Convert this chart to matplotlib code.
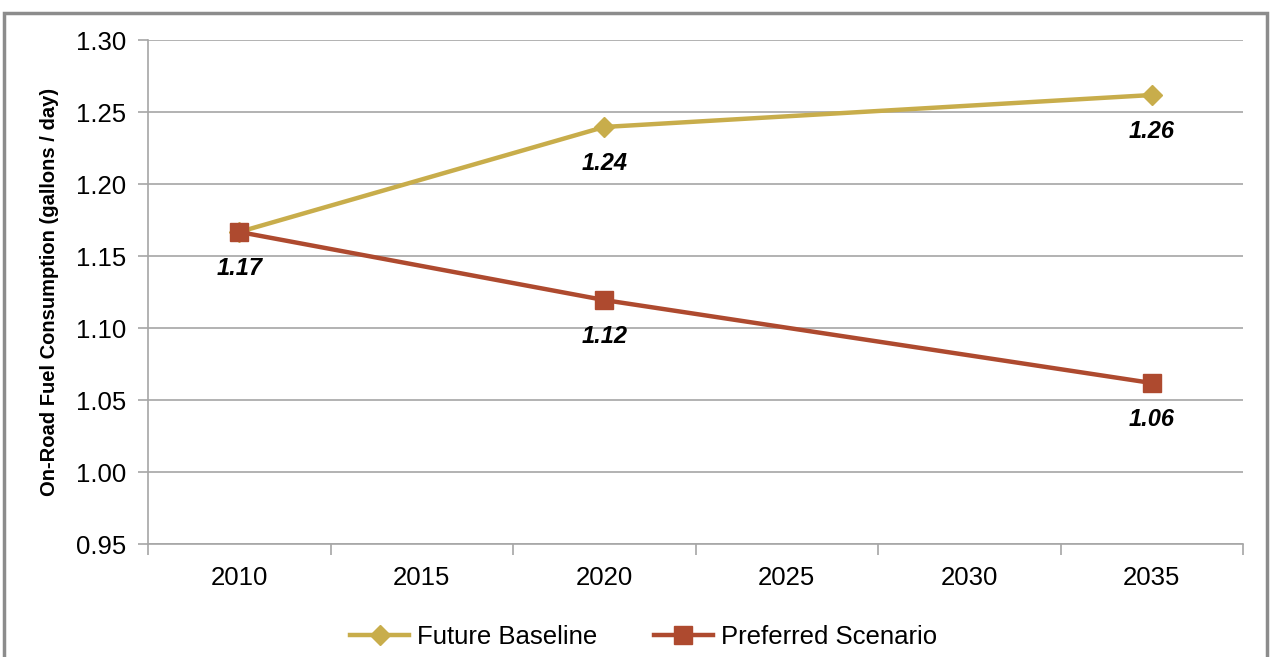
import matplotlib.pyplot as plt
import numpy as np

plt.rcParams['font.family'] = ['Liberation Sans', 'DejaVu Sans']

# data
years = ['2010', '2015', '2020', '2025', '2030', '2035']
baseline_x = [0, 2, 5]
baseline = [1.1667, 1.2396, 1.2618]
preferred_x = [0, 2, 5]
preferred = [1.1667, 1.1194, 1.0618]
baseline_labels = ['', '1.24', '1.26']
preferred_labels = ['1.17', '1.12', '1.06']
y_ticks = [0.95, 1.00, 1.05, 1.10, 1.15, 1.20, 1.25, 1.30]

gold = '#C8AD4B'
rust = '#AE4A2F'
grid_c = '#A6A6A6'

fig = plt.figure(figsize=(12.71, 6.57), dpi=100)
ax = fig.add_axes([148/1271, 1 - 544/657, (1243-148)/1271, (544-40)/657])

# figure frame
fig.patches.append(plt.Rectangle((4/1271, -0.01), (1267-4)/1271, 1 - 13/657 + 0.01,
                                 transform=fig.transFigure, fill=False,
                                 edgecolor='#8C8C8C', linewidth=2.5))

ax.plot(baseline_x, baseline, color=gold, linewidth=3.2, marker='D',
        markersize=10, label='Future Baseline', zorder=3)
ax.plot(preferred_x, preferred, color=rust, linewidth=3.2, marker='s',
        markersize=13, label='Preferred Scenario', zorder=4)

for x, v, t in zip(baseline_x, baseline, baseline_labels):
    if t:
        ax.annotate(t, (x, v), xytext=(0, -18), textcoords='offset points',
                    ha='center', va='top', fontsize=17, fontweight='bold',
                    fontstyle='italic')
for x, v, t in zip(preferred_x, preferred, preferred_labels):
    ax.annotate(t, (x, v), xytext=(0, -18), textcoords='offset points',
                ha='center', va='top', fontsize=17, fontweight='bold',
                fontstyle='italic')

ax.set_xlim(-0.5, 5.5)
ax.set_ylim(0.95, 1.30)
ax.set_yticks(y_ticks)
ax.set_yticklabels([f'{v:.2f}' for v in y_ticks], fontsize=18.5)
ax.set_xticks(range(len(years)))
ax.set_xticklabels(years, fontsize=18.5)
ax.set_xticks(np.arange(-0.5, 6, 1), minor=True)
ax.tick_params(axis='x', which='major', length=0, pad=16)
ax.tick_params(axis='x', which='minor', length=8, color=grid_c, width=1.2)
ax.tick_params(axis='y', length=7, color=grid_c, width=1.2, pad=9)

ax.grid(axis='y', color=grid_c, linewidth=1.2)
ax.set_axisbelow(True)
for s in ['top', 'right']:
    ax.spines[s].set_visible(False)
ax.spines['left'].set_color(grid_c)
ax.spines['bottom'].set_color(grid_c)
ax.spines['left'].set_linewidth(1.2)
ax.spines['bottom'].set_linewidth(1.2)

ax.set_ylabel('On-Road Fuel Consumption (gallons / day)', fontsize=14.5,
              fontweight='bold', labelpad=12)

ax.legend(loc='upper center', bbox_to_anchor=(0.5 - 52/1095, -0.115), ncol=2,
          frameon=False, fontsize=18.5, handlelength=2.3, columnspacing=2.2,
          handletextpad=0.3)

fig.savefig('out.png', dpi=100)
